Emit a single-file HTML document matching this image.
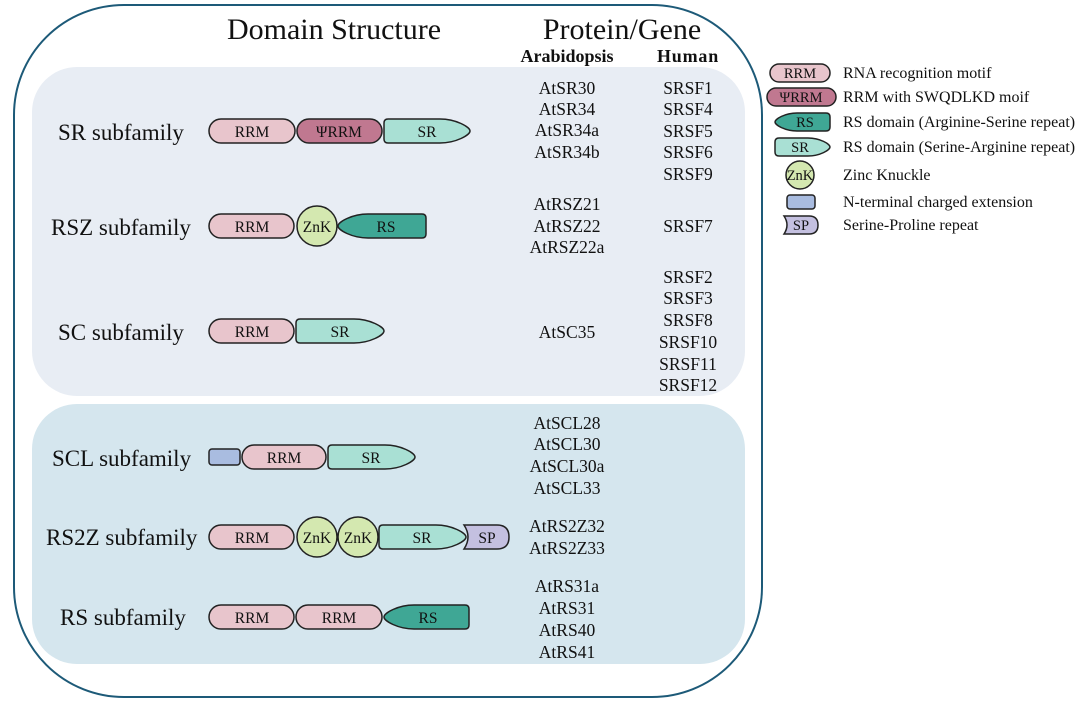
<!DOCTYPE html>
<html><head><meta charset="utf-8"><style>
html,body{margin:0;padding:0;background:#fff;width:1080px;height:704px;overflow:hidden}
svg{display:block}
text{font-family:"Liberation Serif",serif;fill:#111}
</style></head><body>
<svg width="1080" height="704" viewBox="0 0 1080 704" xmlns="http://www.w3.org/2000/svg">
<rect x="14" y="5" width="748" height="692" rx="110" fill="#fff" stroke="#1d5a78" stroke-width="2"/>
<rect x="32" y="67" width="713" height="329" rx="45" fill="#e8edf4"/>
<rect x="32" y="404" width="713" height="260" rx="45" fill="#d5e6ee"/>

<text x="334" y="39" font-size="30" text-anchor="middle">Domain Structure</text>
<text x="622" y="39" font-size="30" text-anchor="middle">Protein/Gene</text>
<text x="567" y="62" font-size="18" font-weight="bold" text-anchor="middle">Arabidopsis</text>
<text x="688" y="62" font-size="18" font-weight="bold" text-anchor="middle" letter-spacing="0.8">Human</text>

<g font-size="23">
<text x="58" y="140">SR subfamily</text>
<text x="51" y="235">RSZ subfamily</text>
<text x="58" y="340">SC subfamily</text>
<text x="52" y="466">SCL subfamily</text>
<text x="46" y="545">RS2Z subfamily</text>
<text x="60" y="625">RS subfamily</text>
</g>

<g stroke="#222" stroke-width="1.5">
<rect x="209" y="119" width="86" height="24" rx="12" fill="#e8c5cc"/>
<rect x="297" y="119" width="85" height="24" rx="12" fill="#c07890"/>
<path d="M388 119 H440 C456 119 470 127 470 131 C470 135 456 143 440 143 H388 Q384 143 384 139 V123 Q384 119 388 119Z" fill="#a9e0d4"/>
<rect x="209" y="214" width="85" height="24" rx="12" fill="#e8c5cc"/>
<path d="M422 214 H368 C352 214 338 222 338 226 C338 230 352 238 368 238 H422 Q426 238 426 234 V218 Q426 214 422 214Z" fill="#3fa795"/>
<circle cx="317" cy="226" r="20" fill="#d4e8b0"/>
<rect x="209" y="319" width="85" height="24" rx="12" fill="#e8c5cc"/>
<path d="M300 319 H354 C370 319 384 327 384 331 C384 335 370 343 354 343 H300 Q296 343 296 339 V323 Q296 319 300 319Z" fill="#a9e0d4"/>
<rect x="209" y="449" width="31" height="16" rx="3" fill="#a9bce0"/>
<rect x="242" y="445" width="84" height="24" rx="12" fill="#e8c5cc"/>
<path d="M332 445 H385 C401 445 415 453 415 457 C415 461 401 469 385 469 H332 Q328 469 328 465 V449 Q328 445 332 445Z" fill="#a9e0d4"/>
<rect x="209" y="525" width="85" height="24" rx="12" fill="#e8c5cc"/>
<path d="M383 525 H436 C452 525 466 533 466 537 C466 541 452 549 436 549 H383 Q379 549 379 545 V529 Q379 525 383 525Z" fill="#a9e0d4"/>
<path d="M464 525 H497 Q509 525 509 537 Q509 549 497 549 H464 Q472 537 464 525Z" fill="#c4c0e0"/>
<circle cx="317" cy="537" r="20" fill="#d4e8b0"/>
<circle cx="358" cy="537" r="20" fill="#d4e8b0"/>
<rect x="209" y="605" width="85" height="24" rx="12" fill="#e8c5cc"/>
<rect x="296" y="605" width="86" height="24" rx="12" fill="#e8c5cc"/>
<path d="M465 605 H414 C398 605 384 613 384 617 C384 621 398 629 414 629 H465 Q469 629 469 625 V609 Q469 605 465 605Z" fill="#3fa795"/>
<rect x="770" y="64" width="60" height="18" rx="9" fill="#e8c5cc"/>
<rect x="767" y="88" width="69" height="18" rx="9" fill="#c07890"/>
<path d="M826 113 H797 C785 113 775 119 775 122 C775 125 785 131 797 131 H826 Q830 131 830 127 V117 Q830 113 826 113Z" fill="#3fa795"/>
<path d="M779 138 H808 C820 138 830 144 830 147 C830 150 820 156 808 156 H779 Q775 156 775 152 V142 Q775 138 779 138Z" fill="#a9e0d4"/>
<circle cx="800" cy="175" r="14" fill="#d4e8b0"/>
<rect x="787" y="195" width="28" height="14" rx="3" fill="#a9bce0"/>
<path d="M784 216 H809 Q818 216 818 225 Q818 234 809 234 H784 Q790 225 784 216Z" fill="#c4c0e0"/>
</g>

<g font-size="15.5" text-anchor="middle">
<text x="252" y="137">RRM</text><text x="339" y="137">ΨRRM</text><text x="427" y="137">SR</text>
<text x="252" y="232">RRM</text><text x="317" y="232">ZnK</text><text x="386" y="232">RS</text>
<text x="252" y="337">RRM</text><text x="340" y="337">SR</text>
<text x="284" y="463">RRM</text><text x="371" y="463">SR</text>
<text x="252" y="543">RRM</text><text x="317" y="543">ZnK</text><text x="358" y="543">ZnK</text><text x="422" y="543">SR</text><text x="487" y="543">SP</text>
<text x="252" y="623">RRM</text><text x="339" y="623">RRM</text><text x="428" y="623">RS</text>
</g>
<g font-size="14.5" text-anchor="middle">
<text x="800" y="78">RRM</text><text x="801" y="102">ΨRRM</text><text x="805" y="127">RS</text><text x="800" y="152">SR</text><text x="800" y="180">ZnK</text><text x="801" y="230">SP</text>
</g>
<g font-size="16">
<text x="843" y="78">RNA recognition motif</text>
<text x="843" y="102">RRM with SWQDLKD moif</text>
<text x="843" y="127">RS domain (Arginine-Serine repeat)</text>
<text x="843" y="152">RS domain (Serine-Arginine repeat)</text>
<text x="843" y="180">Zinc Knuckle</text>
<text x="843" y="207">N-terminal charged extension</text>
<text x="843" y="230">Serine-Proline repeat</text>
</g>

<g font-size="17.5" text-anchor="middle">
<text x="567" y="94">AtSR30</text><text x="567" y="115">AtSR34</text><text x="567" y="136">AtSR34a</text><text x="567" y="158">AtSR34b</text>
<text x="688" y="94">SRSF1</text><text x="688" y="115">SRSF4</text><text x="688" y="137">SRSF5</text><text x="688" y="158">SRSF6</text><text x="688" y="180">SRSF9</text>
<text x="567" y="210">AtRSZ21</text><text x="567" y="232">AtRSZ22</text><text x="567" y="253">AtRSZ22a</text>
<text x="688" y="232">SRSF7</text>
<text x="567" y="338">AtSC35</text>
<text x="688" y="283">SRSF2</text><text x="688" y="304">SRSF3</text><text x="688" y="326">SRSF8</text><text x="688" y="348">SRSF10</text><text x="688" y="370">SRSF11</text><text x="688" y="391">SRSF12</text>
<text x="567" y="429">AtSCL28</text><text x="567" y="450">AtSCL30</text><text x="567" y="472">AtSCL30a</text><text x="567" y="494">AtSCL33</text>
<text x="567" y="532">AtRS2Z32</text><text x="567" y="554">AtRS2Z33</text>
<text x="567" y="592">AtRS31a</text><text x="567" y="614">AtRS31</text><text x="567" y="636">AtRS40</text><text x="567" y="658">AtRS41</text>
</g>
</svg>
</body></html>
